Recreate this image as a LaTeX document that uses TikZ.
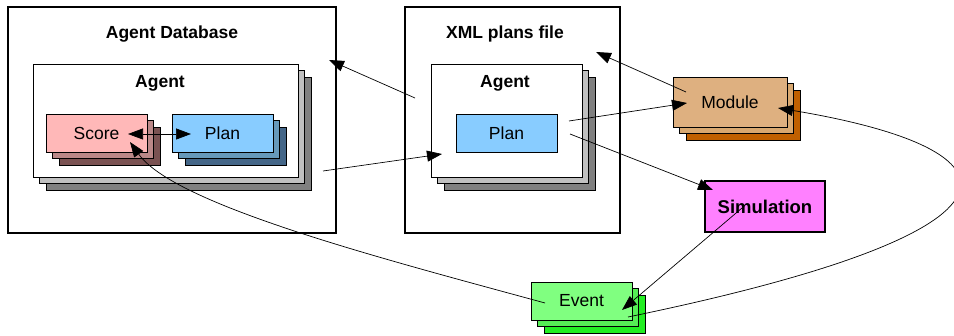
\documentclass[tikz,border=0pt]{standalone}
\usepackage{fontspec}
\setmainfont{Liberation Sans}
\usetikzlibrary{arrows.meta,shadows}
\definecolor{scoreA}{HTML}{FFB8B8}
\definecolor{scoreB}{HTML}{BB8888}
\definecolor{scoreC}{HTML}{7A5252}
\definecolor{planA}{HTML}{88CCFF}
\definecolor{planB}{HTML}{6699BB}
\definecolor{planC}{HTML}{446688}
\definecolor{modA}{HTML}{DEB080}
\definecolor{modB}{HTML}{D8A870}
\definecolor{modC}{HTML}{C06000}
\definecolor{evA}{HTML}{80FF80}
\definecolor{evB}{HTML}{55EE55}
\definecolor{evC}{HTML}{22EE22}
\definecolor{simC}{HTML}{FF80FF}
\definecolor{grayB}{HTML}{C0C0C0}
\definecolor{grayC}{HTML}{808080}
\tikzset{
  stackbox/.style n args={3}{draw=black, line width=0.8pt, fill=#1, inner sep=0pt,
    general shadow={shadow xshift=13pt, shadow yshift=-13pt, fill=#3, draw=black, line width=0.8pt},
    general shadow={shadow xshift=6.5pt, shadow yshift=-6.5pt, fill=#2, draw=black, line width=0.8pt}},
  bigbox/.style={draw=black, line width=2pt, fill=white, inner sep=0pt},
  ttl/.style={font=\fontsize{17.5}{20}\selectfont\bfseries, inner sep=0pt},
  lbl/.style={font=\fontsize{17.5}{20}\selectfont, inner sep=0pt},
  conn/.style={line width=0.7pt, -{Triangle[length=15pt,width=11pt]}},
  dconn/.style={line width=0.7pt, {Triangle[length=15pt,width=11pt]}-{Triangle[length=15pt,width=11pt]}},
}
\begin{document}
\begin{tikzpicture}[x=1pt,y=-1pt]
\useasboundingbox[fill=white] (0,0) rectangle (954,336);
% Agent Database
\node[bigbox, minimum width=328pt, minimum height=226pt] (adb) at (172,120) {};
\node[ttl] (adbt) at (172,34) {Agent Database};
\node[stackbox={white}{grayB}{grayC}, minimum width=265pt, minimum height=113pt] (agL) at (165.5,120.5) {};
\node[ttl] (agLt) at (160,83) {Agent};
\node[stackbox={scoreA}{scoreB}{scoreC}, minimum width=101pt, minimum height=38pt, lbl] (score) at (96.5,133) {Score};
\node[stackbox={planA}{planB}{planC}, minimum width=101pt, minimum height=38pt, lbl] (planL) at (222.5,133) {Plan};
% XML plans file
\node[bigbox, minimum width=215pt, minimum height=226pt] (xml) at (512.5,120) {};
\node[ttl] (xmlt) at (505,34) {XML plans file};
\node[stackbox={white}{grayB}{grayC}, minimum width=151pt, minimum height=113pt] (agR) at (506.5,120.5) {};
\node[ttl] (agRt) at (505,83) {Agent};
\node[draw=black, line width=0.8pt, fill=planA, minimum width=101pt, minimum height=38pt, lbl] (planR) at (506.5,133) {Plan};
% Module
\node[stackbox={modA}{modB}{modC}, minimum width=114pt, minimum height=50pt, lbl] (mod) at (730,102) {Module};
% Simulation
\node[draw=black, line width=2pt, fill=simC, minimum width=120pt, minimum height=51pt, inner sep=0pt, font=\fontsize{18.5}{21}\selectfont\bfseries] (sim) at (765,206.5) {Simulation};
% Event
\node[stackbox={evA}{evB}{evC}, minimum width=101pt, minimum height=38pt, lbl] (ev) at (581.5,301) {Event};
% connector endpoints
\coordinate (c1a) at (415,98);  \coordinate (c1b) at (329,60);
\coordinate (c2a) at (323,171); \coordinate (c2b) at (442,154);
\coordinate (c3a) at (686,92);  \coordinate (c3b) at (596,52);
\coordinate (c4a) at (569,121); \coordinate (c4b) at (687,103);
\coordinate (c5a) at (570,134); \coordinate (c5b) at (713,190);
\coordinate (c6a) at (742,208); \coordinate (c6b) at (622,310);
\coordinate (c7a) at (545,303); \coordinate (c7b) at (130,142);
\coordinate (c8a) at (628,317); \coordinate (c8b) at (778,108);
\coordinate (spa) at (128,134); \coordinate (spb) at (191,134);
\draw[conn] (c1a) -- (c1b);
\draw[conn] (c2a) -- (c2b);
\draw[conn] (c3a) -- (c3b);
\draw[conn] (c4a) -- (c4b);
\draw[conn] (c5a) -- (c5b);
\draw[conn] (c6a) -- (c6b);
\draw[conn] (c7a) .. controls (380,258) and (175,205) .. (c7b);
\draw[conn] (c8a) .. controls (1050,230) and (1030,150) .. (c8b);
\draw[dconn] (spa) -- (spb);
\end{tikzpicture}
\end{document}
